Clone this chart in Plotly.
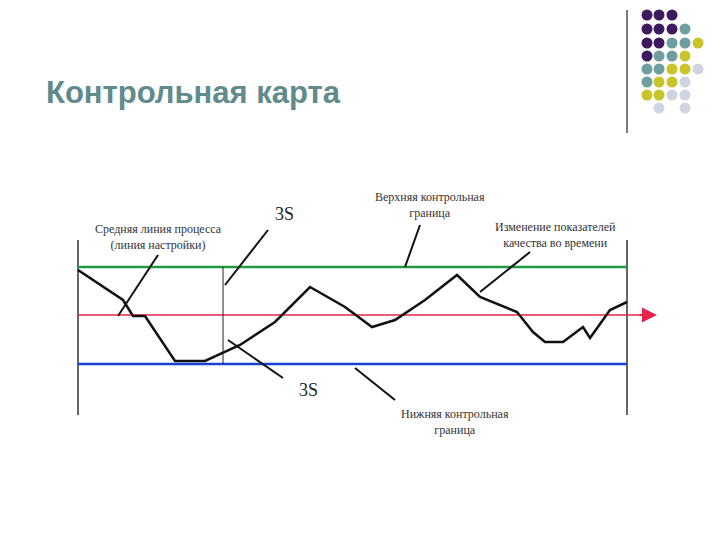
import plotly.graph_objects as go

# process line (time index -> value), in picture coordinates
proc_x = [78,123,133,145,175,205,240,275,310,345,372,395,425,457,480,517,533,545,563,583,590,610,627]
proc_y = [270,300,316,316,361,361,345,322,287,307,327,320,300,275,297,312,332,342,342,327,338,310,302]
ucl, center, lcl = 267, 315, 364
x_start, x_end = 78, 627

dot_cols = [647, 659, 672, 685, 698]
dot_rows = [15, 29, 43, 56, 69, 82, 95, 108]
P, T, Y, L = "#3d1a5e", "#6f9ea0", "#c8c42a", "#d0d3e0"
dot_grid = [
    [P, P, P, None, None],
    [P, P, P, T, None],
    [P, P, T, T, Y],
    [P, T, T, Y, None],
    [T, T, Y, Y, L],
    [T, Y, Y, L, None],
    [Y, Y, L, L, None],
    [None, L, None, L, None],
]

fig = go.Figure()
dx, dy, dc = [], [], []
for r, row in enumerate(dot_grid):
    for c, col in enumerate(row):
        if col:
            dx.append(dot_cols[c]); dy.append(dot_rows[r]); dc.append(col)
fig.add_trace(go.Scatter(x=dx, y=dy, mode="markers", marker=dict(size=11, color=dc), hoverinfo="skip"))
fig.add_trace(go.Scatter(x=[627, 627], y=[10, 133], mode="lines", line=dict(color="#222", width=1.2)))

for xv in (x_start, x_end):
    fig.add_trace(go.Scatter(x=[xv, xv], y=[240, 415], mode="lines", line=dict(color="#333", width=1.5)))
fig.add_trace(go.Scatter(x=[x_start, x_end], y=[ucl, ucl], mode="lines", line=dict(color="#1e9a45", width=2.5)))
fig.add_trace(go.Scatter(x=[x_start, 645], y=[center, center], mode="lines", line=dict(color="#e8234a", width=1.5)))
fig.add_trace(go.Scatter(x=[x_start, x_end], y=[lcl, lcl], mode="lines", line=dict(color="#1a3fd6", width=2.5)))
fig.add_trace(go.Scatter(x=proc_x, y=proc_y, mode="lines", line=dict(color="#111", width=2.5)))
fig.add_trace(go.Scatter(x=[223, 223], y=[ucl, lcl], mode="lines", line=dict(color="#222", width=1)))

leaders = [((420, 225), (405, 267)), ((158, 255), (118, 316)), ((268, 230), (225, 285)),
           ((530, 252), (480, 292)), ((228, 340), (283, 378)), ((355, 368), (395, 400))]
for (x0, y0), (x1, y1) in leaders:
    fig.add_trace(go.Scatter(x=[x0, x1], y=[y0, y1], mode="lines", line=dict(color="#111", width=2)))

fig.add_annotation(x=657, y=315, ax=638, ay=315, xref="x", yref="y", axref="x", ayref="y",
                   showarrow=True, arrowhead=2, arrowsize=1.5, arrowwidth=2, arrowcolor="#e8234a", text="")

serif = dict(family="Liberation Serif", size=12, color="#333")
labels = [
    (430, 205, "Верхняя контрольная<br>граница"),
    (158, 237, "Средняя линия процесса<br>(линия настройки)"),
    (555, 235, "Изменение показателей<br>качества во времени"),
    (455, 422, "Нижняя контрольная<br>граница"),
]
for x, y, t in labels:
    fig.add_annotation(x=x, y=y, text=t, showarrow=False, font=serif)
fig.add_annotation(x=284, y=214, text="3S", showarrow=False, font=dict(family="Liberation Serif", size=18, color="#222"))
fig.add_annotation(x=308, y=390, text="3S", showarrow=False, font=dict(family="Liberation Serif", size=18, color="#222"))
fig.add_annotation(x=44, y=92, text="<b>Контрольная карта</b>", showarrow=False, xanchor="left",
                   font=dict(family="Liberation Sans", size=31, color="#5f8b8c"))

fig.update_layout(width=720, height=540, margin=dict(l=0, r=0, t=0, b=0), showlegend=False,
                  plot_bgcolor="white", paper_bgcolor="white",
                  xaxis=dict(range=[8, 728], visible=False, fixedrange=True),
                  yaxis=dict(range=[548, 8], visible=False, fixedrange=True))
fig.write_html("out.html")
